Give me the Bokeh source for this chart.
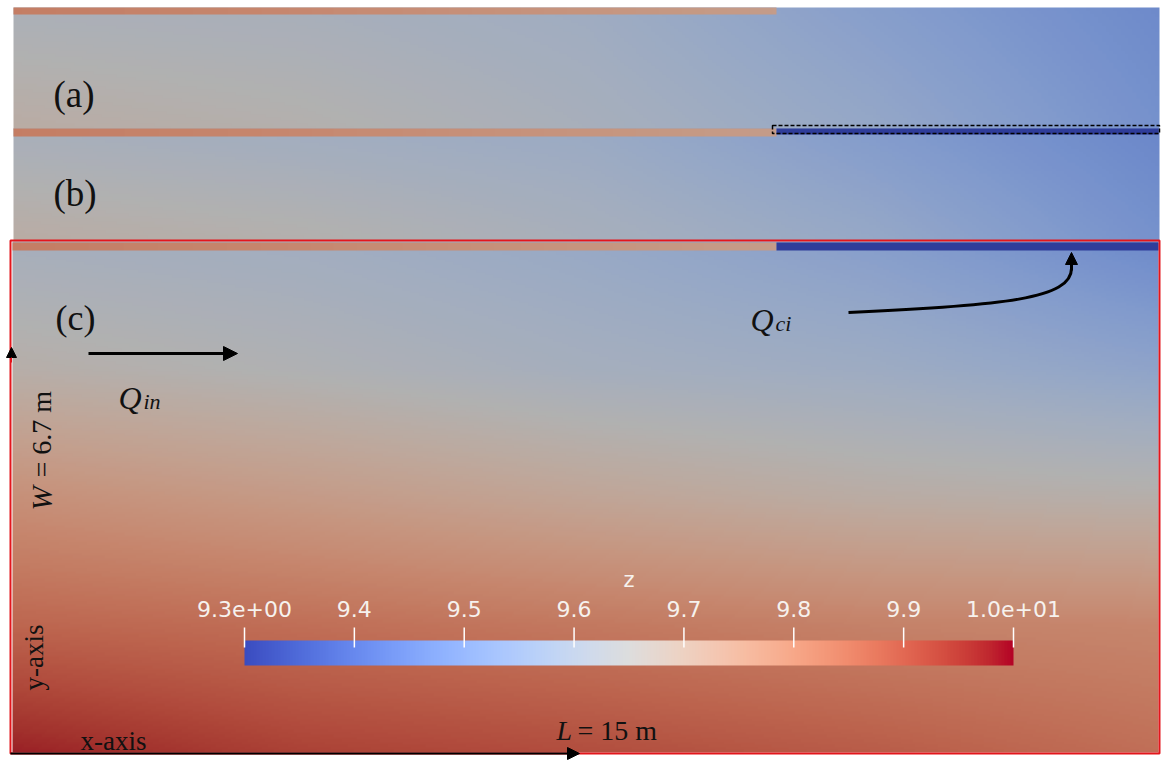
import numpy as np
from bokeh.plotting import figure
from bokeh.models import Range1d, LinearColorMapper, Arrow, NormalHead, Label
from bokeh.core.properties import value
from bokeh.embed import file_html
from bokeh.resources import INLINE

# ---------------- data ----------------
Z_MIN, Z_MAX = 9.3, 10.0
DOMAIN_L, DOMAIN_W = 15.0, 6.7          # m
OUTLET_START = 10.0                     # m, start of the outlet boundary (top edge)

# panel (c): z samples, rows bottom (y=0) -> top (y=W), columns x = 0 .. L
FIELD_X = [0.0, 3.75, 7.5, 11.25, 15.0]
FIELD_Y = [0.0, 1.675, 3.35, 5.025, 6.7]
Z_C = [
    [9.976, 9.930, 9.910, 9.885, 9.850],
    [9.867, 9.850, 9.830, 9.810, 9.800],
    [9.776, 9.745, 9.710, 9.680, 9.665],
    [9.670, 9.645, 9.612, 9.590, 9.550],
    [9.615, 9.601, 9.573, 9.531, 9.468],
]
# panels (a), (b): strips, rows bottom -> top
STRIP_Y = [0.0, 1.0]
Z_A = [[9.680, 9.660, 9.620, 9.566, 9.489],
       [9.630, 9.620, 9.594, 9.531, 9.468]]
Z_B = [[9.680, 9.660, 9.620, 9.570, 9.490],
       [9.620, 9.600, 9.580, 9.520, 9.460]]
# top boundary (bank) values, x = 0 .. outlet start
BANK_X = [0.0, 3.33, 6.67, 10.0]
BANK_Z = [9.82, 9.80, 9.77, 9.74]
OUTLET_Z = 9.30

CB_TICKS = [9.3, 9.4, 9.5, 9.6, 9.7, 9.8, 9.9, 10.0]
CB_LABELS = ["9.3e+00", "9.4", "9.5", "9.6", "9.7", "9.8", "9.9", "1.0e+01"]

# ---------------- styling helpers ----------------
COOLWARM = [(59,76,192),(68,90,204),(77,104,215),(87,117,225),(98,130,234),(108,142,241),
            (119,154,247),(130,165,251),(141,176,254),(152,185,255),(163,194,255),(174,201,253),
            (184,208,249),(194,213,244),(204,217,238),(213,219,230),(221,221,221),(229,216,209),
            (236,211,197),(241,204,185),(245,196,173),(247,187,160),(247,177,148),(247,166,135),
            (244,154,123),(241,141,111),(236,127,99),(229,112,88),(222,96,77),(213,80,66),
            (203,62,56),(192,40,47),(180,4,38)]
SHADE = 0.80

def make_palette(shade):
    arr = np.array(COOLWARM, float)
    s = np.linspace(0, 1, len(COOLWARM))
    t = np.linspace(0, 1, 256)
    out = []
    for v in t:
        rgb = [np.interp(v, s, arr[:, k]) * shade for k in range(3)]
        out.append("#%02x%02x%02x" % tuple(int(round(min(255, c))) for c in rgb))
    return out

bright = LinearColorMapper(palette=make_palette(1.0), low=Z_MIN, high=Z_MAX)
shaded = LinearColorMapper(palette=make_palette(SHADE), low=Z_MIN, high=Z_MAX)

def render_grid(grid, xs, ys, nx, ny):
    g = np.asarray(grid, float)
    fx = np.linspace(xs[0], xs[-1], nx)
    fy = np.linspace(ys[0], ys[-1], ny)
    rows = np.array([np.interp(fx, xs, r) for r in g])
    return np.array([np.interp(fy, ys, rows[:, j]) for j in range(nx)]).T

W_PX, H_PX = 1161, 762
def Y(py):
    return H_PX - py

p = figure(width=W_PX, height=H_PX, x_range=Range1d(0, W_PX), y_range=Range1d(0, H_PX),
           output_backend="svg", toolbar_location=None, min_border=0,
           x_axis_type=None, y_axis_type=None)
p.grid.visible = False
p.outline_line_color = None
p.background_fill_color = "white"
p.border_fill_color = "white"

# ---- panel (c) geometry in pixels
CX0, CX1, CYT, CYB = 12, 1158, 241, 752
def cx(xm):
    return CX0 + xm / DOMAIN_L * (CX1 - CX0)

# fields
p.image(image=[render_grid(Z_A, FIELD_X, STRIP_Y, 300, 40)], x=13, y=Y(129), dw=1146, dh=122, color_mapper=shaded)
p.image(image=[render_grid(Z_B, FIELD_X, STRIP_Y, 300, 40)], x=13, y=Y(241), dw=1146, dh=113, color_mapper=shaded)
p.image(image=[render_grid(Z_C, FIELD_X, FIELD_Y, 400, 200)], x=CX0, y=Y(CYB), dw=CX1 - CX0, dh=CYB - CYT, color_mapper=shaded)

# top boundary strips
bank = render_grid([BANK_Z, BANK_Z], BANK_X, [0, 1], 200, 2)
xo = cx(OUTLET_START)
p.image(image=[bank], x=13, y=Y(14), dw=xo - 13, dh=7, color_mapper=shaded)
p.image(image=[bank], x=13, y=Y(136), dw=xo - 13, dh=8, color_mapper=shaded)
p.image(image=[bank], x=CX0, y=Y(250), dw=xo - CX0, dh=8, color_mapper=shaded)
outlet = np.full((2, 2), OUTLET_Z)
p.image(image=[outlet], x=xo, y=Y(134), dw=1158 - xo, dh=6, color_mapper=shaded)
p.image(image=[outlet], x=xo, y=Y(250), dw=1158 - xo, dh=8, color_mapper=shaded)

# dashed box around outlet in (b)
p.quad(left=[xo - 4], right=[1159], top=[Y(125)], bottom=[Y(133)], fill_alpha=0,
       line_color="black", line_dash="4 2", line_width=1.5)

# red frame of (c)
p.quad(left=[10], right=[1159], top=[Y(240)], bottom=[Y(753)], fill_alpha=0,
       line_color="#e3161c", line_width=2)

# ---- colour bar
CBX0, CBX1, CBYT, CBYB = 244, 1013, 640, 665
cb = np.linspace(Z_MIN, Z_MAX, 256)[None, :]
p.image(image=[cb], x=CBX0, y=Y(CBYB), dw=CBX1 - CBX0, dh=CBYB - CBYT, color_mapper=bright)
tx = [CBX0 + (v - Z_MIN) / (Z_MAX - Z_MIN) * (CBX1 - CBX0) for v in CB_TICKS]
p.segment(x0=tx, x1=tx, y0=[Y(627)] * len(tx), y1=[Y(647)] * len(tx), line_color="white", line_width=1.5)
p.text(x=tx, y=[Y(608)] * len(tx), text=CB_LABELS, text_color="#f6f2ee",
       text_font=value("DejaVu Sans"), text_font_size="22px", text_align="center", text_baseline="middle")
p.text(x=[(CBX0 + CBX1) / 2], y=[Y(579)], text=["z"], text_color="#f6f2ee",
       text_font=value("DejaVu Sans"), text_font_size="21px", text_align="center", text_baseline="middle")

# ---- labels
SERIF = "Liberation Serif"
def lab(x, y, t, size, style="normal", angle=0.0, align="left"):
    p.add_layout(Label(x=x, y=Y(y), text=t, text_font=SERIF, text_font_size=size,
                       text_font_style=style, text_color="#111111", angle=angle,
                       text_align=align, text_baseline="alphabetic"))

lab(53, 94, "(a)", "37px")
lab(53, 193, "(b)", "37px")
lab(55, 317, "(c)", "36px")
lab(118, 397, "Q", "32px", "italic")
lab(143, 401, "in", "22px", "italic")
lab(750, 319, "Q", "32px", "italic")
lab(775, 323, "ci", "22px", "italic")
lab(556, 730, "L", "28px", "italic")
lab(577, 730, "= 15 m", "28px")
lab(80, 740, "x-axis", "27px")
lab(33, 690, "y-axis", "27px", angle=np.pi / 2)
lab(41, 510, "W", "29px", "italic", angle=np.pi / 2)
lab(41, 477, "= 6.7 m", "28px", angle=np.pi / 2)

# ---- arrows
p.add_layout(Arrow(end=NormalHead(size=14, fill_color="black", line_color="black"),
                   x_start=88, y_start=Y(353), x_end=237, y_end=Y(353), line_width=3, line_color="black"))
p.bezier(x0=[848], y0=[Y(312)], x1=[1071], y1=[Y(268)], cx0=[1005], cy0=[Y(305)], cx1=[1071], cy1=[Y(298)],
         line_color="black", line_width=3)
p.add_layout(Arrow(end=NormalHead(size=12, fill_color="black", line_color="black"),
                   x_start=1071, y_start=Y(270), x_end=1071, y_end=Y(252), line_width=3, line_color="black"))
p.add_layout(Arrow(end=NormalHead(size=10, fill_color="black", line_color="black"),
                   x_start=11, y_start=Y(362), x_end=11, y_end=Y(347), line_width=1, line_color="#e3161c"))
p.add_layout(Arrow(end=NormalHead(size=12, fill_color="black", line_color="black"),
                   x_start=10, y_start=Y(753), x_end=579, y_end=Y(753), line_width=2, line_color="black"))

open("out.html", "w").write(file_html(p, INLINE))
